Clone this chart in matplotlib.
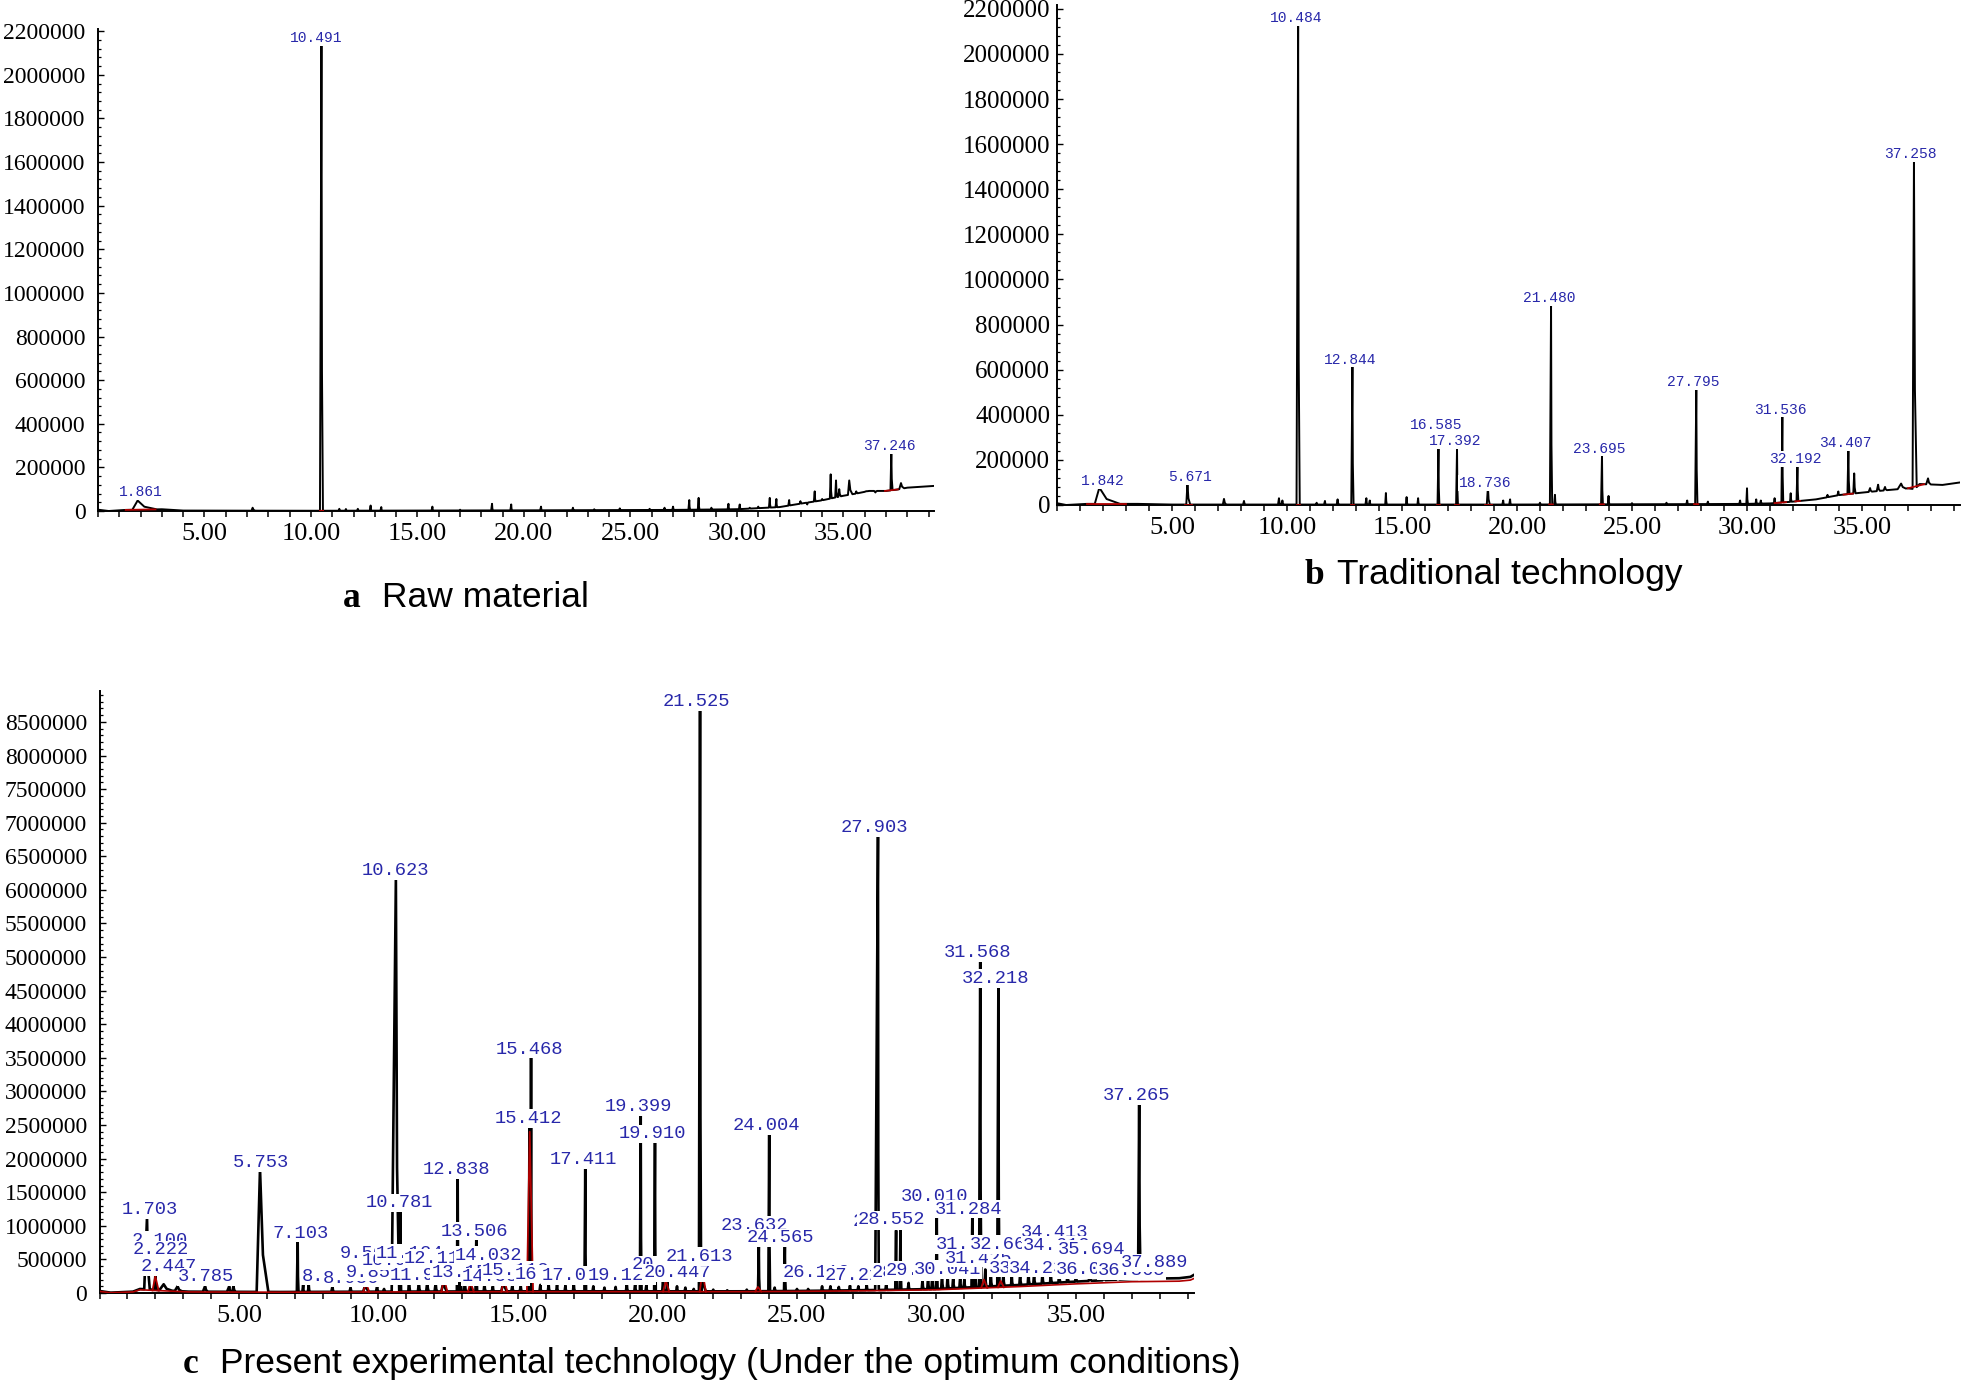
import numpy as np
import matplotlib
import matplotlib.pyplot as plt
from matplotlib.ticker import MultipleLocator, AutoMinorLocator, StrMethodFormatter, FuncFormatter

W, H, DPI = 1961, 1387, 100
BLUE = '#2828aa'
RED = '#b00000'

# ---------------- data ----------------
# peaks: (retention time, apex height, left half-width, right half-width)
a_peaks = [(1.861, 48000, 0.25, 0.9), (7.26, 15000, 0.05, 0.12),
           (10.491, 2140000, 0.07, 0.07), (11.33, 10000, 0.04, 0.04),
           (11.64, 9000, 0.04, 0.04), (12.2, 10000, 0.04, 0.04),
           (12.8, 25000, 0.04, 0.04), (13.3, 18000, 0.04, 0.04),
           (15.7, 20000, 0.04, 0.04), (17.0, 6000, 0.04, 0.04),
           (18.5, 33000, 0.04, 0.04), (19.4, 30000, 0.04, 0.04),
           (20.8, 20000, 0.04, 0.04), (22.3, 15000, 0.04, 0.04),
           (23.3, 8000, 0.04, 0.04), (24.5, 12000, 0.04, 0.04),
           (25.9, 10000, 0.04, 0.04), (26.6, 15000, 0.04, 0.04),
           (27.0, 20000, 0.04, 0.04), (27.76, 50000, 0.04, 0.04),
           (28.2, 60000, 0.04, 0.04), (28.8, 15000, 0.04, 0.04),
           (29.6, 33000, 0.04, 0.04), (30.13, 30000, 0.04, 0.04),
           (30.6, 15000, 0.04, 0.04), (31.0, 20000, 0.04, 0.04),
           (31.54, 60000, 0.04, 0.04), (31.85, 55000, 0.04, 0.04),
           (32.45, 50000, 0.04, 0.04), (32.98, 45000, 0.04, 0.04),
           (33.3, 30000, 0.04, 0.04), (33.65, 90000, 0.04, 0.04),
           (34.0, 55000, 0.04, 0.04), (34.4, 168000, 0.04, 0.05),
           (34.65, 140000, 0.04, 0.06), (34.8, 100000, 0.04, 0.08),
           (35.27, 140000, 0.06, 0.15), (35.6, 90000, 0.04, 0.06),
           (36.05, 90000, 0.06, 0.1), (36.5, 85000, 0.06, 0.08),
           (37.246, 266000, 0.04, 0.06), (37.7, 128000, 0.08, 0.15)]
a_base_t = [0, 0.5, 1.3, 3.0, 4.0, 10, 20, 27, 30, 32, 33, 34, 35, 35.6, 36.2, 37.0, 37.5, 38.0, 39.25]
a_base_y = [6000, 0, 5000, 8000, 2000, 1000, 3000, 5000, 8000, 18000, 34000, 49000,
            70000, 80000, 92000, 92000, 98000, 107000, 115000]
a_lab_text = ['1.861', '10.491', '37.246']
a_lab_t = [2.02, 10.23, 37.14]
a_lab_y = [87000, 2167000, 298000]
a_integ = [(1.3, 2.7), (10.42, 10.57), (36.95, 37.55)]

b_peaks = [(1.842, 77000, 0.2, 0.9), (5.671, 95000, 0.05, 0.12), (7.26, 27000, 0.05, 0.1),
           (8.13, 18000, 0.04, 0.06), (9.65, 30000, 0.04, 0.06), (9.8, 20000, 0.04, 0.06),
           (10.484, 2130000, 0.07, 0.07), (11.29, 10000, 0.04, 0.04),
           (11.65, 18000, 0.04, 0.04), (12.2, 25000, 0.04, 0.06),
           (12.844, 612000, 0.05, 0.05), (13.45, 30000, 0.04, 0.04),
           (13.6, 20000, 0.04, 0.04), (14.3, 53000, 0.03, 0.04),
           (15.2, 35000, 0.03, 0.04), (15.7, 30000, 0.03, 0.04),
           (16.585, 252000, 0.04, 0.04), (17.392, 250000, 0.04, 0.04),
           (18.736, 80000, 0.05, 0.08), (19.4, 20000, 0.04, 0.04),
           (19.7, 25000, 0.04, 0.04), (21.0, 10000, 0.04, 0.04),
           (21.48, 885000, 0.05, 0.05), (21.65, 45000, 0.03, 0.04),
           (23.695, 219000, 0.04, 0.04), (23.98, 40000, 0.03, 0.04),
           (25.0, 8000, 0.04, 0.04), (26.5, 10000, 0.04, 0.04),
           (27.4, 20000, 0.04, 0.04), (27.795, 510000, 0.05, 0.05),
           (28.3, 15000, 0.04, 0.04), (29.7, 20000, 0.04, 0.04),
           (30.0, 74000, 0.03, 0.04), (30.4, 25000, 0.03, 0.04),
           (30.6, 20000, 0.03, 0.04), (31.2, 30000, 0.03, 0.04),
           (31.536, 395000, 0.04, 0.04), (31.9, 52000, 0.03, 0.04),
           (32.192, 173000, 0.04, 0.04), (33.5, 45000, 0.04, 0.04),
           (33.97, 60000, 0.04, 0.04), (34.407, 247000, 0.04, 0.05),
           (34.66, 140000, 0.04, 0.06), (35.35, 75000, 0.06, 0.08),
           (35.7, 90000, 0.06, 0.08), (36.0, 80000, 0.06, 0.08),
           (36.7, 95000, 0.15, 0.2), (37.258, 1526000, 0.06, 0.12),
           (37.87, 118000, 0.08, 0.12)]
b_base_t = [0, 0.4, 1.3, 3.5, 5, 20, 28, 30, 31, 32, 33, 34, 35, 36.2, 37.0, 37.3, 37.5, 38.5, 39.26]
b_base_y = [8000, 0, 5000, 5000, 2000, 2000, 4000, 5000, 7000, 15000, 25000, 44000,
            55000, 67000, 74000, 70000, 93000, 89000, 100000]
b_lab_text = ['1.842', '5.671', '10.484', '12.844', '16.585', '17.392', '18.736', '21.480',
              '23.695', '27.795', '31.536', '32.192', '34.407', '37.258']
b_lab_t = [1.98, 5.80, 10.40, 12.74, 16.48, 17.30, 18.60, 21.38,
           23.59, 27.65, 31.43, 32.10, 34.27, 37.10]
b_lab_y = [106000, 122000, 2160000, 645000, 353000, 283000, 97000, 917000,
           250000, 545000, 423000, 204000, 274000, 1556000]
b_integ = [(1.3, 3.0), (5.55, 5.85), (10.42, 10.57), (12.78, 12.92), (16.5, 16.65),
           (17.3, 17.47), (18.6, 18.9), (21.4, 21.56), (23.6, 23.78), (27.7, 27.88),
           (31.2, 31.7), (32.1, 32.3), (34.2, 34.6), (37.0, 37.7)]

c_peaks = [(1.703, 1130000, 0.1, 0.1), (2.0, 250000, 0.03, 0.05), (2.3, 130000, 0.15, 0.3),
           (2.8, 100000, 0.1, 0.15), (3.785, 100000, 0.08, 0.1), (4.65, 100000, 0.08, 0.06),
           (4.8, 100000, 0.04, 0.08), (5.753, 1850000, 0.12, 0.3),
           (7.103, 780000, 0.03, 0.03), (7.3, 120000, 0.03, 0.03), (7.5, 120000, 0.03, 0.04),
           (8.35, 100000, 0.04, 0.05), (9.0, 80000, 0.04, 0.05), (9.55, 150000, 0.1, 0.1),
           (9.95, 100000, 0.04, 0.05), (10.2, 60000, 0.04, 0.05),
           (10.623, 6170000, 0.15, 0.12), (10.781, 1240000, 0.03, 0.03),
           (11.1, 260000, 0.03, 0.03), (11.45, 150000, 0.04, 0.05),
           (11.75, 180000, 0.04, 0.05), (12.05, 150000, 0.04, 0.05),
           (12.35, 200000, 0.1, 0.1), (12.838, 1750000, 0.03, 0.03),
           (12.95, 300000, 0.03, 0.03), (13.1, 250000, 0.03, 0.03),
           (13.3, 200000, 0.03, 0.04), (13.506, 830000, 0.03, 0.03),
           (13.8, 150000, 0.03, 0.04), (14.1, 100000, 0.04, 0.04),
           (14.5, 200000, 0.1, 0.1), (14.8, 120000, 0.04, 0.04),
           (15.1, 100000, 0.04, 0.04), (15.412, 2510000, 0.03, 0.02),
           (15.468, 3510000, 0.02, 0.03), (15.8, 120000, 0.03, 0.04),
           (16.1, 130000, 0.03, 0.04), (16.4, 120000, 0.03, 0.04),
           (16.7, 110000, 0.03, 0.04), (17.0, 150000, 0.03, 0.04),
           (17.411, 1870000, 0.03, 0.03), (17.7, 100000, 0.03, 0.04),
           (18.1, 80000, 0.03, 0.04), (18.5, 90000, 0.03, 0.04),
           (18.9, 150000, 0.03, 0.04), (19.2, 150000, 0.03, 0.04),
           (19.399, 2660000, 0.03, 0.03), (19.6, 120000, 0.03, 0.04),
           (19.910, 2250000, 0.03, 0.03), (20.2, 200000, 0.03, 0.04),
           (20.35, 220000, 0.03, 0.04), (20.7, 100000, 0.03, 0.04),
           (21.0, 80000, 0.03, 0.04), (21.3, 60000, 0.03, 0.04),
           (21.525, 8670000, 0.04, 0.04), (21.613, 320000, 0.05, 0.12),
           (22.0, 50000, 0.03, 0.04), (22.5, 40000, 0.03, 0.04),
           (23.2, 50000, 0.03, 0.04), (23.632, 690000, 0.03, 0.03),
           (24.004, 2370000, 0.03, 0.03), (24.2, 80000, 0.03, 0.04),
           (24.565, 690000, 0.03, 0.03), (25.0, 60000, 0.03, 0.04),
           (25.4, 60000, 0.03, 0.04), (25.9, 100000, 0.03, 0.04),
           (26.2, 100000, 0.03, 0.04), (26.5, 90000, 0.03, 0.04),
           (26.9, 110000, 0.03, 0.04), (27.2, 100000, 0.03, 0.04),
           (27.5, 120000, 0.03, 0.04), (27.903, 6790000, 0.1, 0.03),
           (28.2, 150000, 0.03, 0.04), (28.552, 930000, 0.03, 0.03),
           (28.71, 930000, 0.03, 0.03), (29.0, 150000, 0.03, 0.04),
           (29.5, 200000, 0.03, 0.04), (29.7, 250000, 0.03, 0.04),
           (29.85, 300000, 0.03, 0.04), (30.010, 1170000, 0.03, 0.03),
           (30.2, 300000, 0.03, 0.04), (30.4, 280000, 0.03, 0.04),
           (30.6, 250000, 0.03, 0.04), (30.85, 250000, 0.03, 0.04),
           (31.0, 200000, 0.03, 0.04), (31.284, 1130000, 0.03, 0.03),
           (31.4, 350000, 0.03, 0.03), (31.568, 4960000, 0.04, 0.04),
           (31.75, 350000, 0.03, 0.04), (31.95, 300000, 0.03, 0.04),
           (32.218, 4580000, 0.04, 0.04), (32.4, 300000, 0.03, 0.04),
           (32.7, 250000, 0.03, 0.04), (33.0, 300000, 0.03, 0.04),
           (33.3, 320000, 0.03, 0.04), (33.5, 300000, 0.03, 0.04),
           (33.8, 300000, 0.03, 0.04), (34.1, 300000, 0.03, 0.04),
           (34.4, 320000, 0.03, 0.04), (34.7, 300000, 0.03, 0.04),
           (35.0, 280000, 0.03, 0.04), (35.5, 250000, 0.05, 0.06),
           (36.0, 250000, 0.05, 0.06), (36.5, 240000, 0.05, 0.06),
           (37.265, 2820000, 0.04, 0.05), (37.889, 320000, 0.08, 0.08)]
c_base_t = [0, 0.4, 1.2, 1.45, 3.2, 6.5, 10, 15, 20, 23, 25, 28, 30, 33, 35, 37, 38.7, 39.1, 39.23]
c_base_y = [30000, 5000, 20000, 60000, 20000, 15000, 20000, 25000, 25000, 25000, 30000,
            45000, 60000, 120000, 170000, 210000, 220000, 240000, 270000]
c_red_t = [2.0, 9.55, 12.35, 13.3, 14.5, 15.42, 20.3, 21.613, 23.6, 31.7, 32.3]
c_red_y = [250000, 150000, 210000, 150000, 200000, 2400000, 180000, 320000, 90000, 200000, 180000]
c_lab_text = ['1.703', '2.100', '2.222', '2.447', '3.785', '5.753', '7.103', '8.254', '8.986',
              '9.568', '9.859', '10.623', '10.972', '11.124', '11.930', '12.116', '10.781',
              '12.838', '13.155', '14.032', '13.506', '14.530', '15.112', '15.468', '15.412',
              '16.071', '17.036', '17.411', '19.128', '19.399', '19.910', '20.204', '20.447',
              '21.525', '21.613', '23.632', '24.004', '24.565', '26.112', '27.212', '27.903',
              '28.331', '28.552', '28.975', '29.630', '30.010', '30.041', '31.284', '31.062',
              '31.425', '31.568', '32.218', '32.662', '33.315', '34.413', '34.230', '34.612',
              '35.694', '36.029', '37.265', '36.865', '37.889']
c_lab_t = [1.80, 2.16, 2.20, 2.48, 3.83, 5.80, 7.20, 8.25, 9.00,
           9.62, 9.84, 10.59, 10.60, 11.10, 11.60, 12.10, 10.75,
           12.81, 13.10, 13.95, 13.45, 14.20, 14.90, 15.41, 15.36,
           16.10, 17.05, 17.35, 18.70, 19.33, 19.81, 20.30, 20.70,
           21.38, 21.50, 23.47, 23.89, 24.41, 25.70, 27.20, 27.79,
           28.20, 28.40, 28.90, 29.40, 29.92, 30.40, 31.15, 31.20,
           31.50, 31.47, 32.13, 32.40, 33.10, 34.25, 33.80, 34.30,
           35.55, 35.50, 37.19, 37.00, 37.80]
c_lab_y = [1.24, 0.78, 0.64, 0.39, 0.24, 1.94, 0.89, 0.25, 0.22,
           0.59, 0.31, 6.29, 0.48, 0.59, 0.26, 0.52, 1.34,
           1.84, 0.30, 0.56, 0.92, 0.24, 0.34, 3.63, 2.60,
           0.28, 0.26, 1.98, 0.26, 2.77, 2.37, 0.42, 0.30,
           8.80, 0.54, 1.01, 2.49, 0.82, 0.30, 0.26, 6.93,
           1.07, 1.09, 0.31, 0.34, 1.43, 0.35, 1.25, 0.72,
           0.52, 5.07, 4.68, 0.72, 0.37, 0.90, 0.37, 0.71,
           0.65, 0.35, 2.94, 0.33, 0.45]


def px(x0, y0, x1, y1):
    """pixel box (left, top, right, bottom) -> figure fraction rect"""
    return [x0 / W, 1 - y1 / H, (x1 - x0) / W, (y1 - y0) / H]


def trace(peaks, bt, by):
    spans = [(rt - wl, rt + wr) for rt, h, wl, wr in peaks]
    pts = [(t, y) for t, y in zip(bt, by)
           if not any(l < t < r for l, r in spans)]
    for rt, h, wl, wr in peaks:
        l, r = rt - wl, rt + wr
        bl, br = np.interp(l, bt, by), np.interp(r, bt, by)
        pts += [(l, bl), (rt, h), (rt + 0.35 * wr, br + 0.3 * (h - br)), (r, br)]
    pts.sort(key=lambda p: p[0])
    return np.array(pts).T


def style_axes(ax, xmax, ymax, ystep, tick_fs=17, ypad=9):
    ax.set_xlim(0, xmax)
    ax.set_ylim(0, ymax)
    for s in ('top', 'right'):
        ax.spines[s].set_visible(False)
    for s in ('left', 'bottom'):
        ax.spines[s].set_linewidth(1.4)
    ax.xaxis.set_major_locator(MultipleLocator(5))
    ax.xaxis.set_minor_locator(MultipleLocator(1))
    ax.xaxis.set_major_formatter(FuncFormatter(lambda v, p: '' if v == 0 else f'{v:.2f}'))
    ax.yaxis.set_major_locator(MultipleLocator(ystep))
    ax.yaxis.set_minor_locator(AutoMinorLocator(5))
    ax.yaxis.set_major_formatter(StrMethodFormatter('{x:.0f}'))
    ax.tick_params(axis='x', which='both', direction='out', length=4.5, width=1.1,
                   labelsize=19, pad=4, labelfontfamily='Liberation Serif')
    ax.tick_params(axis='y', which='major', direction='in', length=4, width=1.0,
                   labelsize=tick_fs, pad=ypad, labelfontfamily='Liberation Serif')
    ax.tick_params(axis='y', which='minor', direction='in', length=2.5, width=0.9)


def labels(ax, texts, ts, ys, fs):
    for i, (s, t, y) in enumerate(zip(texts, ts, ys)):
        ax.text(t, y, s, ha='center', va='center', fontsize=fs,
                family='Liberation Mono', color=BLUE, zorder=10 + i * 0.01,
                bbox=dict(fc='white', ec='none', pad=0.6), clip_on=False)


def integ(ax, spans, bt, by):
    for l, r in spans:
        ax.plot([l, r], [np.interp(l, bt, by), np.interp(r, bt, by)],
                color=RED, lw=1.3, zorder=4)


fig = plt.figure(figsize=(W / DPI, H / DPI), dpi=DPI)

# ---- panel a ----
axa = fig.add_axes(px(98, 29, 934, 511))
t, y = trace(a_peaks, a_base_t, a_base_y)
axa.plot(t, y, color='black', lw=1.4, zorder=3)
integ(axa, a_integ, a_base_t, a_base_y)
style_axes(axa, 39.25, 2.21e6, 200000)
labels(axa, a_lab_text, a_lab_t, a_lab_y, 10.5)

# ---- panel b ----
axb = fig.add_axes(px(1057, 5, 1960, 505))
t, y = trace(b_peaks, b_base_t, b_base_y)
axb.plot(t, y, color='black', lw=1.4, zorder=3)
integ(axb, b_integ, b_base_t, b_base_y)
style_axes(axb, 39.26, 2.217e6, 200000, tick_fs=18, ypad=5)
labels(axb, b_lab_text, b_lab_t, b_lab_y, 10.5)

# ---- panel c ----
axc = fig.add_axes(px(99.5, 691, 1194, 1293))
t, y = trace(c_peaks, c_base_t, c_base_y)
axc.plot(t, y, color='black', lw=1.9, zorder=3)
axc.plot(c_base_t, np.array(c_base_y) * 0.8, color=RED, lw=1.2, zorder=4)
for rt, h in zip(c_red_t, c_red_y):
    b0 = np.interp(rt, c_base_t, c_base_y) * 0.8
    axc.plot([rt - 0.1, rt, rt + 0.12], [b0, h, b0], color=RED, lw=1.3, zorder=4)
style_axes(axc, 39.23, 8.96e6, 500000)
labels(axc, c_lab_text, c_lab_t, np.array(c_lab_y) * 1e6, 13.5)

# ---- captions ----
caps = [(343, 382, 607, 'a', 'Raw material'),
        (1305, 1337, 584, 'b', 'Traditional technology'),
        (183, 220, 1373, 'c', 'Present experimental technology (Under the optimum conditions)')]
for xl, xt, yb, letter, text in caps:
    fig.text(xl / W, 1 - yb / H, letter, ha='left', va='baseline', fontsize=25.5,
             family='Liberation Serif', fontweight='bold')
    fig.text(xt / W, 1 - yb / H, text, ha='left', va='baseline', fontsize=25.5,
             family='Liberation Sans')

fig.savefig('out.png', dpi=DPI)
